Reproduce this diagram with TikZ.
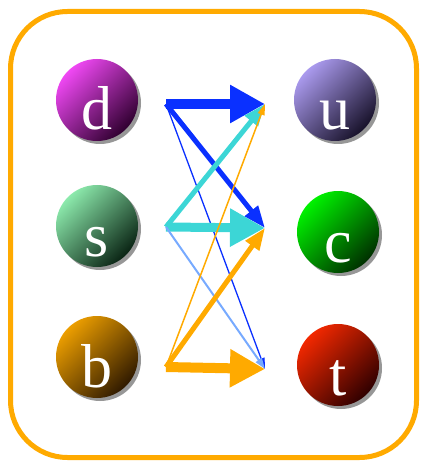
\documentclass[tikz,border=0pt]{standalone}
\usepackage{fontspec}
\setmainfont{Liberation Serif}
\usetikzlibrary{arrows.meta,shadows}
\definecolor{bord}{HTML}{FFAA00}
\definecolor{qblue}{HTML}{0A30FF}
\definecolor{qcyan}{HTML}{3CD6D6}
\definecolor{qlight}{HTML}{77AAFF}
\definecolor{qorange}{HTML}{FFAA00}
\definecolor{dTop}{HTML}{F048F4}\definecolor{dBot}{HTML}{300030}
\definecolor{sTop}{HTML}{8CEAAC}\definecolor{sBot}{HTML}{0A2414}
\definecolor{bTop}{HTML}{EC9E00}\definecolor{bBot}{HTML}{301A00}
\definecolor{uTop}{HTML}{AA9AEE}\definecolor{uBot}{HTML}{18122A}
\definecolor{cTop}{HTML}{00F200}\definecolor{cBot}{HTML}{003000}
\definecolor{tTop}{HTML}{F22800}\definecolor{tBot}{HTML}{300000}
\begin{document}
\begin{tikzpicture}[x=1pt,y=-1pt,
  ball/.style={circle, minimum size=82pt, inner sep=0pt,
    drop shadow={shadow xshift=3pt, shadow yshift=-3pt, fill=black!45, opacity=0.9}},
  diag/.style={shading angle=45},
  letter/.style={text=white, font=\fontsize{62}{62}\selectfont, anchor=base, inner sep=0pt},
  frame/.style={draw=bord, line width=5pt, rounded corners=57pt},
  thick arr/.style={line width=10pt, -{Triangle[length=35pt,width=36pt]}},
  mid arr/.style={line width=5pt, -{Triangle[length=22pt,width=16pt]}},
  thin arr/.style={-{Triangle[length=11pt,width=7pt]}}
]
\useasboundingbox (0,0) rectangle (423,462);
\draw[frame] (10.5,11.5) rectangle (416.5,457.5);

% balls
\node[ball, top color=dTop, bottom color=dBot, diag] (d) at (97,100) {};
\node[ball, top color=sTop, bottom color=sBot, diag] (s) at (97,226) {};
\node[ball, top color=bTop, bottom color=bBot, diag] (b) at (97,357) {};
\node[ball, top color=uTop, bottom color=uBot, diag] (u) at (335,100) {};
\node[ball, top color=cTop, bottom color=cBot, diag] (c) at (338,232) {};
\node[ball, top color=tTop, bottom color=tBot, diag] (t) at (338,365) {};

\node[letter] (dL) at (97,130) {d};
\node[letter] (sL) at (97,256) {s};
\node[letter] (bL) at (97,387) {b};
\node[letter] (uL) at (335,130) {u};
\node[letter] (cL) at (338,262) {c};
\node[letter] (tL) at (338,395) {t};

% arrow ends
\coordinate (dS) at (166,104);
\coordinate (sS) at (166,227);
\coordinate (bS) at (166,367);
\coordinate (uT) at (265,104);
\coordinate (cT) at (265,228);
\coordinate (tT) at (265,369);

% from d
\draw[qblue, thick arr] (dS) -- (uT);
\draw[qblue, mid arr] (dS) -- (cT);
\draw[qblue, thin arr, line width=1.3pt] (dS) -- (tT);
% from s
\draw[qcyan, mid arr] (sS) -- (uT);
\draw[qcyan, thick arr, line width=9pt] (sS) -- (cT);
\draw[qlight, thin arr, line width=2pt] (sS) -- (tT);
% from b
\draw[qorange, thin arr, line width=1.5pt] (bS) -- (uT);
\draw[qorange, mid arr] (bS) -- (cT);
\draw[qorange, thick arr] (bS) -- (tT);
\end{tikzpicture}
\end{document}
